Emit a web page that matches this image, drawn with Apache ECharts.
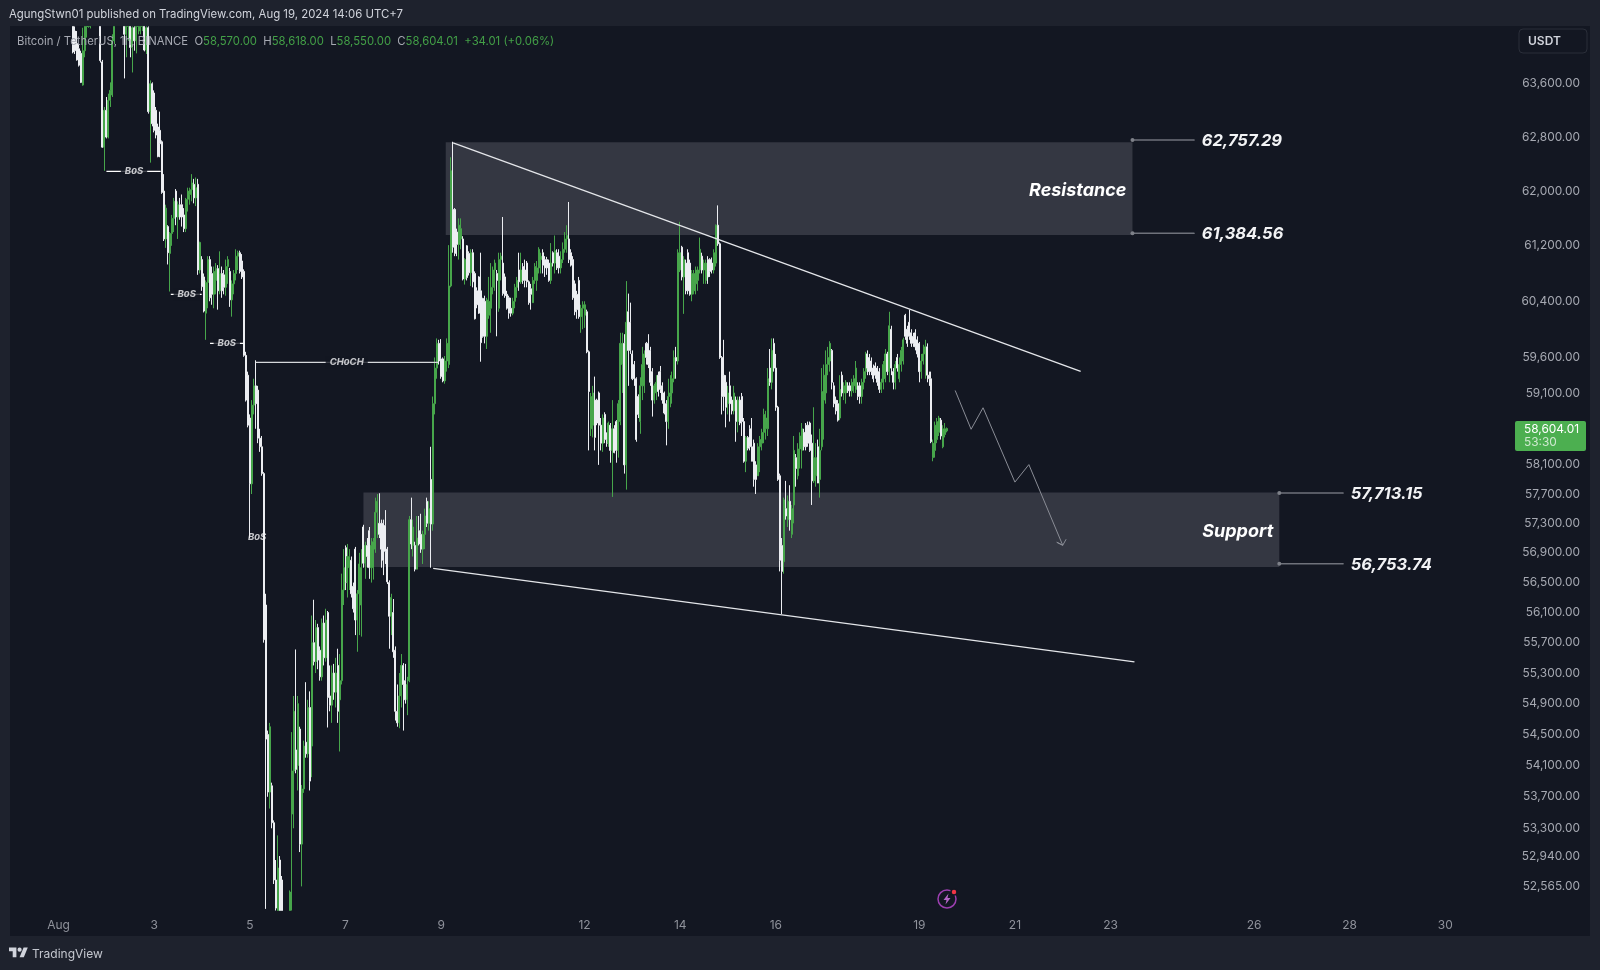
<!DOCTYPE html>
<html>
<head>
<meta charset="utf-8">
<title>BTCUSDT 1h</title>
<script src="https://cdn.jsdelivr.net/npm/echarts@6/dist/echarts.min.js"></script>
<style>
  html, body { margin: 0; padding: 0; background: #1e222d; }
  #chart { width: 1600px; height: 970px; }
</style>
</head>
<body>
<div id="chart"></div>
<script>
// every candle is [open, close, low, high], one list per day, one candle per hour
const firstHourAug1 = 7;
const aug1 = [[64470,64080,64060,64470],[64400,64100,64050,64470],[64210,63960,63950,64400],[64130,63880,63860,64200],[64060,63620,63610,64100],[63580,64100,63570,64450],[64100,64470,64000,64470],[64470,64470,64300,64470],[64470,64470,64450,64470],[64470,64470,64440,64470],[64900,64700,64500,65100],[64700,64900,64600,65100],[64900,65000,64700,65200],[65000,64800,64600,65200],[64470,63950,63920,64470],[63930,62650,62640,63960],[62650,63200,62300,63250]];
const aug2 = [[63200,62800,62780,63400],[62800,63350,62780,63450],[63350,63500,63250,63620],[63430,64250,63400,64350],[64250,64470,64200,64470],[64700,64900,64600,65100],[64900,65100,64700,65300],[65100,65000,64800,65300],[65000,64900,64700,65200],[64470,64350,63680,64470],[64350,64470,64000,64470],[64470,64470,64250,64470],[64470,64150,64000,64470],[64150,64450,63770,64470],[64450,64250,64100,64470],[64250,64470,64060,64470],[64470,64470,64350,64470],[64400,64470,64350,64470],[64470,64470,64400,64470],[64470,64110,64090,64470],[64110,64450,64050,64470],[64450,63180,63150,64470],[63180,63600,62420,63650],[63600,63000,62960,63620]];
const aug3 = [[63460,62900,62870,63500],[63200,62830,62780,63250],[62950,62510,62500,63000],[62900,62700,62500,63180],[62730,61980,61960,62750],[62000,61300,61270,62250],[61300,61750,61170,61800],[61480,61100,60930,61500],[61090,61380,60540,61400],[61380,61600,61200,61650],[61600,61850,61400,61900],[62000,61620,61500,62030],[61620,61800,61300,61850],[61800,61620,61580,61900],[61800,61620,61480,61950],[61650,61450,61400,61750],[61450,61880,61400,61900],[61880,62000,61700,62050],[61950,62020,61800,62050],[62020,62120,61850,62250],[62100,61900,61820,62180],[61900,62050,61780,62200],[62100,60850,60780,62180],[60850,61250,60800,61260]];
const aug4 = [[61000,60610,60550,61050],[60750,60260,60240,60800],[60230,60670,59850,60700],[60670,61000,60300,61050],[61000,60450,60400,61050],[60800,60500,60350,60900],[60500,60830,60300,60900],[60700,60870,60500,60950],[60870,60550,60280,60920],[60550,60800,60500,61120],[60800,60550,60450,60900],[60780,60600,60500,60850],[60600,60900,60480,61000],[60900,61000,60650,61050],[60830,60420,60320,60880],[60420,60650,60180,60700],[60650,60800,60500,60850],[60800,61050,60700,61150],[61050,61100,60850,61130],[61100,60830,60800,61130],[60980,60750,60720,61080],[60830,59630,59610,60860],[59630,59000,58980,59680],[59350,58650,58620,59400]];
const aug5 = [[58750,57840,57100,58800],[57840,58930,57700,59000],[58930,59200,58800,59300],[59200,58950,58600,59560],[59140,58470,58400,59200],[58470,58350,58280,58600],[58350,57980,57950,58500],[57980,55740,55700,58000],[56200,54440,52290,56350],[54500,53760,53700,54550],[53760,54600,53550,54650],[53840,53370,53300,53880],[53370,52650,52600,53400],[52650,52300,52270,52900],[52270,52800,52270,53210],[52900,52270,52270,52950],[52650,52270,52270,52700],[52000,52150,51900,52200],[52150,52050,51900,52250],[52050,52200,51950,52250],[52270,52500,52270,52520],[53480,54030,52270,54530],[54030,54800,53300,55000],[54300,54050,54000,55610]];
const aug6 = [[54100,54900,53780,55000],[54570,53100,53000,54600],[53100,53800,52570,53850],[53800,54350,53750,54420],[54400,54250,54200,55180],[54250,54850,54200,54950],[54850,53900,53780,55060],[54350,55700,53950,56060],[55700,55450,55400,56270],[55450,55900,55300,56000],[55900,55470,55350,55950],[55600,55250,55200,55650],[55250,55960,55200,56020],[55960,55500,55400,56060],[55500,56000,55450,56150],[56100,54980,54590,56120],[55000,54880,54800,55400],[54880,55300,54650,55400],[55300,55050,54950,55420],[55050,55300,54850,55500],[55400,54800,54650,55620],[54950,55200,54280,55550],[55200,56400,55150,56620],[56400,56700,56200,56950]];
const aug7 = [[56970,56500,56400,57000],[56500,56850,56300,57020],[56700,56850,56400,56950],[56800,56350,56300,56850],[56450,56150,56100,56500],[56950,56000,55800,56980],[56000,56350,55580,56400],[56350,56750,55800,56900],[56200,56700,55780,56950],[57250,56760,56700,57280],[56760,57000,56550,57050],[57000,56850,56700,57100],[57200,56700,56550,57250],[56700,57000,56500,57100],[56700,57050,56540,57100],[56950,57450,56900,57650],[57450,57600,57100,57700],[57300,57150,57100,57710],[57300,56950,56700,57350],[57300,56800,56600,57350],[57270,56920,56750,57480],[56950,56510,56480,56980],[56500,56050,55620,56530],[56050,56300,55800,56350]];
const aug8 = [[56100,55580,55500,56280],[55600,54800,54680,55650],[54800,54650,54600,55150],[54650,55000,54580,55300],[55000,55400,54850,55550],[55400,55150,54550,55430],[55200,54950,54900,55420],[54950,55150,54750,55250],[55200,57350,55180,57400],[57350,57020,56950,57650],[57000,57250,56850,57350],[57000,56680,56650,57050],[56680,57100,56690,57400],[57200,57020,57000,57400],[57150,56950,56900,57430],[56950,57150,56750,57200],[57150,57400,56950,57500],[57600,57300,57250,57650],[57300,57500,57200,57600],[57900,57290,56700,58350],[57290,58950,57200,59050],[58950,59450,58800,59600],[59450,59800,59300,59870],[59800,59550,59500,59850]];
const aug9 = [[59580,59330,59300,59860],[59580,59270,59250,59600],[59270,59550,59230,59620],[59550,59800,59400,59870],[59500,60620,59450,61210],[60620,62300,60600,62500],[61730,61180,61100,62730],[61730,61090,61050,61750],[61400,61220,61050,61450],[61220,61500,61000,61600],[61300,61450,61150,61600],[61300,60720,60700,61340],[60720,61000,60640,61020],[61200,60740,60700,61210],[61090,60810,60770,61120],[60810,61100,60620,61150],[61100,60680,60600,61150],[60800,60150,60140,60830],[60550,60350,60300,60600],[60750,60230,60220,60760],[60550,59810,59540,61100],[60440,59900,59880,60450],[60400,59900,59800,60480],[59900,60420,59720,60450]];
const aug10 = [[60200,60400,60150,60750],[60300,60600,59950,60950],[60600,60850,60500,60900],[60850,60950,60550,61000],[60800,60700,59900,60850],[60300,61000,60250,61100],[61000,61050,60700,61100],[60950,60510,60480,61620],[60750,60480,60450,60800],[60500,60300,60280,60550],[60450,60230,60150,60480],[60300,60230,60180,60450],[60230,60400,60200,60450],[60400,60600,60300,60650],[60600,60700,60450,60750],[60850,60680,60550,61100],[60680,60850,60650,61100],[60900,60700,60650,60950],[60850,60700,60600,61000],[60950,60680,60600,60980],[60680,60380,60350,60700],[60580,60500,60280,60650],[60380,60700,60380,60750],[60700,60900,60650,60950]];
const aug11 = [[60700,60880,60550,60980],[60880,61150,60800,61180],[61000,61050,60800,61100],[61100,60920,60800,61150],[61000,60880,60750,61050],[61000,60880,60780,61040],[60950,60700,60680,61000],[60700,60950,60650,61240],[61100,60950,60900,61120],[60950,61130,60800,61350],[61100,60880,60850,61150],[61050,60880,60800,61150],[60880,61000,60800,61120],[61000,61150,60950,61250],[61150,61300,61100,61400],[61300,61350,61100,61500],[61300,61000,60950,61840],[61100,60920,60900,61150],[61000,60450,60420,61050],[60650,60250,60200,60700],[60500,60280,60150,60550],[60700,60180,60150,60750],[60180,60300,59950,60350],[60300,60350,60000,60400]];
const aug12 = [[60200,60350,60020,60400],[60250,59680,59660,60280],[59680,59120,58300,59700],[58600,59050,58500,59100],[58650,59100,58480,59200],[59000,58480,58300,59330],[59000,58680,58650,59020],[59100,58650,58100,59120],[58650,58400,58300,58750],[58400,58750,58280,58800],[58800,58450,58400,58830],[58450,58400,58350,58550],[58400,58680,58350,58700],[58650,58300,58130,58680],[58300,58600,57660,59000],[58600,58270,58260,58650],[58700,58300,58130,58720],[58300,58950,58200,59000],[58700,59800,58650,59950],[59500,59800,59100,59950],[59800,58100,57980,59930],[58100,60100,57760,60690],[60250,59700,59200,60510],[60100,59700,59650,60380]];
const aug13 = [[59650,59300,59280,59700],[59500,59300,59200,59550],[59300,58450,58420,59320],[59050,58800,58750,59080],[58700,59200,58530,59320],[59200,59500,59000,59750],[59200,59650,59100,59700],[59800,59600,59500,59820],[59800,59500,59450,59930],[59700,59250,59200,59750],[59400,59000,58770,59450],[59000,59200,58950,59230],[59100,59250,59000,59350],[59350,59120,59050,59400],[59400,59150,59100,59480],[59200,59000,58950,59250],[59100,58820,58800,59120],[58950,58700,58370,59000],[58700,59050,58600,59300],[59050,59100,58900,59350],[59100,59300,58950,59400],[59300,59600,59250,59700],[59600,59550,59300,59750],[59550,61100,59500,61150]];
const aug14 = [[60850,61100,60820,61550],[61180,60750,60700,61200],[60750,61000,60220,61050],[60950,60550,60500,61000],[61100,60550,60500,61150],[60950,60500,60480,61000],[60500,60800,60400,60850],[60550,60800,60500,60850],[60650,60850,60500,60900],[60700,60850,60550,60900],[60850,61150,60800,61320],[61050,60850,60800,61100],[60850,60950,60650,61000],[60700,60950,60650,61000],[61000,60750,60650,61050],[61000,60830,60750,61020],[60950,60850,60800,61030],[60850,61100,60800,61150],[60950,61500,60900,61510],[61500,61230,61200,61790],[61230,59600,59580,61250],[59600,59050,58800,59620],[59350,59050,58850,59850],[59250,58900,58620,59350]];
const aug15 = [[58950,59100,58800,59200],[59200,58950,58700,59400],[59000,58850,58800,59050],[58850,59100,58800,59200],[59000,58700,58420,59050],[58700,59000,58550,59050],[59000,58680,58650,59050],[59050,58700,58500,59100],[58700,58150,58130,58750],[58150,58480,58000,58500],[58480,58330,58300,58500],[58600,58350,58300,58650],[58350,58150,58150,58750],[58400,57900,57800,58450],[58100,57900,57700,58150],[57950,58350,57950,58400],[58350,58450,58000,58500],[58400,58550,58300,58600],[58550,58800,58400,58880],[58600,58750,58450,58850],[58600,59300,58500,59450],[59450,59250,59200,59720],[59250,59700,59150,59870],[59800,59450,59400,59870]];
const aug16 = [[59450,58900,58850,59650],[58900,57900,57880,58920],[57950,56800,56650,57980],[57000,56650,56080,57100],[56780,57620,56620,57650],[57500,57400,57350,57880],[57350,57600,57250,57680],[57600,57350,57200,57820],[57150,57500,57100,57550],[57550,58300,57300,58500],[58200,58050,57800,58250],[57950,58320,57900,58400],[58320,58500,58050,58550],[58300,58600,58050,58680],[58550,58350,58300,58600],[58650,58350,58300,58680],[58650,58400,58350,58700],[58680,58300,58280,58700],[58400,57880,57550,58520],[57880,58200,57850,58900],[57950,58200,57800,58400],[58350,57850,57850,58450],[57900,58300,57650,58600],[58350,59120,58300,59450]];
const aug17 = [[59000,59350,58450,59500],[59100,59500,58950,59700],[59500,59600,59350,59750],[59550,59800,59400,59830],[59700,59250,59150,59720],[59200,58950,58900,59250],[59000,58850,58800,59050],[58950,58720,58700,59000],[58750,59150,58720,59350],[59350,59100,59050,59400],[59100,59200,59000,59250],[59100,59250,58950,59280],[59200,59130,59100,59250],[59200,59130,59050,59250],[59130,59250,59050,59300],[59200,59300,59100,59350],[59150,59450,59100,59550],[59200,59050,59000,59250],[59200,59050,58950,59250],[59050,59250,58950,59300],[59250,59400,59150,59450],[59400,59650,59300,59680],[59650,59450,59350,59700],[59600,59400,59350,59650]];
const aug18 = [[59550,59400,59350,59600],[59450,59300,59250,59500],[59480,59350,59300,59530],[59450,59250,59200,59480],[59400,59150,59100,59450],[59150,59250,59100,59300],[59250,59500,59150,59550],[59300,59650,59250,59720],[59650,59400,59350,59680],[59400,60050,59250,60250],[60000,59450,59350,60050],[59400,59250,59150,59450],[59250,59500,59150,59550],[59600,59450,59400,59650],[59300,59500,59250,59600],[59500,59700,59400,59750],[59550,59850,59500,59880],[60200,59900,59850,60220],[60000,59800,59750,60050],[60100,59900,59850,60280],[59950,59800,59750,60000],[59900,59800,59750,59950],[59950,59750,59700,60000],[59850,59650,59600,59900]];
const aug19 = [[59800,59400,59250,59820],[59400,59550,59300,59650],[59550,59650,59500,59780],[59650,59750,59300,59850],[59750,59350,59250,59800],[59350,59300,59200,59400],[59300,58420,58400,59400],[58200,58400,58150,58450],[58300,58650,58200,58700],[58450,58700,58400,58750],[58550,58750,58500,58780],[58720,58500,58450,58750],[58350,58600,58330,58650],[58520,58600,58480,58680],[58570,58604.01,58550,58618]];
const days = [aug1, aug2, aug3, aug4, aug5, aug6, aug7, aug8, aug9, aug10, aug11, aug12, aug13, aug14, aug15, aug16, aug17, aug18, aug19];

const priceTicks = [63600, 62800, 62000, 61200, 60400, 59600, 59100, 58100, 57700, 57300, 56900, 56500, 56100, 55700, 55300, 54900, 54500, 54100, 53700, 53300, 52940, 52565];
const dayTicks = [1, 3, 5, 7, 9, 12, 14, 16, 19, 21, 23, 26, 28, 30];
const dayLabels = ['Aug', '3', '5', '7', '9', '12', '14', '16', '19', '21', '23', '26', '28', '30'];

// zones: [day, hour] of both ends, then top and bottom price
const resistanceEnds = [[9, 2.3], [23, 11]];
const resistancePrices = [62721, 61357];
const supportEnds = [[7, 9], [26, 12.7]];
const supportPrices = [57720, 56710];

const levelPrices = [62757.29, 61384.56, 57713.15, 56753.74];
const levelLabels = ['62,757.29', '61,384.56', '57,713.15', '56,753.74'];
const levelStarts = [[23, 11], [23, 11], [26, 12.7], [26, 12.7]];
const levelEnds = [[24, 18], [24, 18], [27, 20.8], [27, 20.8]];

const upperTrendDays = [[9, 6], [22, 9]];
const upperTrendPrices = [62715, 59405];
const lowerTrendDays = [[8, 20], [23, 12]];
const lowerTrendPrices = [56690, 55447];

const forecastDays = [[19, 18], [20, 2], [20, 8], [21, 0], [21, 7], [22, 0], [21, 21], [22, 0], [22, 1.7]];
const forecastPrices = [59135, 58593, 58893, 57863, 58104, 57002, 57043, 57002, 57084];

const structureNames = ['BoS', 'BoS', 'BoS', 'CHoCH'];
const structurePrices = [62290, 60500, 59800, 59530];
const structureFrom = [[2, 0], [3, 8.3], [4, 4], [5, 2.9]];
const structureTo = [[3, 3.25], [3, 23.8], [4, 20.8], [8, 22.4]];
const structureMid = [[2, 13.85], [3, 16.3], [4, 12.4], [7, 0.6]];
const looseBosDay = [5, 3.6];
const looseBosPrice = 57110;

const paneColor = '#131722';
const outerColor = '#1e222d';
const upColor = '#47a64b';
const downColor = '#eceef2';
const uiFont = 'Inter, "Noto Sans", sans-serif';

function at(day, hour) {
  return Date.UTC(2024, 7, day) + hour * 3600000;
}
function atPair(p) {
  return at(p[0], p[1]);
}

const candles = [];
days.forEach(function (list, d) {
  list.forEach(function (c, i) {
    const hour = d === 0 ? i + firstHourAug1 : i;
    candles.push([at(d + 1, hour), c[0], c[1], c[2], c[3]]);
  });
});

function plainLine(name, xs, ys, color, width) {
  return {
    name: name,
    type: 'line',
    z: 4,
    symbol: 'none',
    silent: true,
    animation: false,
    lineStyle: { color: color, width: width },
    data: xs.map(function (p, i) { return [atPair(p), ys[i]]; })
  };
}

function zoneArea(ends, prices, text) {
  return [{
    name: text,
    coord: [atPair(ends[0]), prices[0]],
    label: {
      show: true,
      position: 'insideRight',
      distance: 5,
      offset: [-1, 2],
      formatter: text,
      color: '#ffffff',
      fontFamily: uiFont,
      fontSize: 18,
      fontWeight: 700,
      fontStyle: 'italic'
    }
  }, {
    coord: [atPair(ends[1]), prices[1]]
  }];
}

const series = [];

series.push({
  name: 'zones',
  type: 'line',
  z: 1,
  silent: true,
  data: [],
  markArea: {
    silent: true,
    animation: false,
    itemStyle: { color: '#343742' },
    data: [zoneArea(resistanceEnds, resistancePrices, 'Resistance'), zoneArea(supportEnds, supportPrices, 'Support')]
  }
});

series.push({
  name: 'BTCUSDT',
  type: 'candlestick',
  z: 3,
  barWidth: 1.5,
  animation: false,
  progressive: 0,
  large: false,
  clip: true,
  encode: { x: 0, y: [1, 2, 3, 4] },
  itemStyle: {
    color: upColor,
    color0: downColor,
    borderColor: upColor,
    borderColor0: downColor,
    borderWidth: 1
  },
  data: candles
});

series.push(plainLine('upper trend', upperTrendDays, upperTrendPrices, '#e4e6ea', 1.3));
series.push(plainLine('lower trend', lowerTrendDays, lowerTrendPrices, '#e4e6ea', 1.3));
series.push(plainLine('forecast', forecastDays, forecastPrices, '#8a8d96', 1));

structureNames.forEach(function (name, i) {
  series.push(plainLine(name + ' ' + i, [structureFrom[i], structureTo[i]], [structurePrices[i], structurePrices[i]], i === 3 ? '#d6d8dc' : '#ffffff', 1.2));
});

const structureLabelStyle = {
  show: true,
  position: 'inside',
  color: '#f2f3f5',
  fontFamily: uiFont,
  fontSize: 9.5,
  fontWeight: 700,
  fontStyle: 'italic'
};
series.push({
  name: 'structure labels',
  type: 'scatter',
  z: 5,
  symbolSize: 1,
  silent: true,
  animation: false,
  itemStyle: { color: 'rgba(0,0,0,0)' },
  data: structureNames.map(function (name, i) {
    return {
      value: [atPair(structureMid[i]), structurePrices[i]],
      label: Object.assign({}, structureLabelStyle, {
        formatter: name,
        backgroundColor: paneColor,
        padding: [1, 4]
      })
    };
  }).concat([{
    value: [atPair(looseBosDay), looseBosPrice],
    label: Object.assign({}, structureLabelStyle, { formatter: 'BoS' })
  }])
});

levelPrices.forEach(function (price, i) {
  series.push({
    name: 'level ' + levelLabels[i],
    type: 'line',
    z: 4,
    silent: true,
    animation: false,
    lineStyle: { color: '#6f727b', width: 1.5 },
    itemStyle: { color: '#7d8088' },
    data: [{
      value: [atPair(levelStarts[i]), price],
      symbol: 'circle',
      symbolSize: 4
    }, {
      value: [atPair(levelEnds[i]), price],
      symbol: 'circle',
      symbolSize: 1,
      label: {
        show: true,
        position: 'right',
        distance: 7,
        offset: [0, 1],
        formatter: levelLabels[i],
        color: '#f2f3f5',
        fontFamily: uiFont,
        fontSize: 16.5,
        fontWeight: 700,
        fontStyle: 'italic'
      }
    }]
  });
});

const legendRich = {
  g: { fill: '#a6a9b2', font: '11.3px ' + uiFont },
  v: { fill: '#43a047', font: '11.3px ' + uiFont }
};

const option = {
  animation: false,
  backgroundColor: outerColor,
  grid: { left: 10, right: 85, top: 26, bottom: 59 },
  xAxis: {
    type: 'value',
    min: at(1, -24.4),
    max: at(1, 731),
    scale: true,
    axisLine: { show: false },
    axisTick: { show: false },
    splitLine: { show: false },
    axisLabel: {
      customValues: dayTicks.map(function (d) { return at(d, 0); }),
      margin: 8,
      color: '#8f929b',
      fontFamily: uiFont,
      fontSize: 12,
      formatter: function (value) {
        return dayLabels[dayTicks.indexOf(new Date(value).getUTCDate())];
      }
    }
  },
  yAxis: {
    type: 'log',
    logBase: 10,
    position: 'right',
    min: 52264,
    max: 64477,
    axisLine: { show: false },
    axisTick: { show: false },
    splitLine: { show: false },
    minorTick: { show: false },
    axisLabel: {
      customValues: priceTicks,
      margin: 65,
      align: 'right',
      padding: [2, 0, 0, 0],
      color: '#a6a9b2',
      fontFamily: uiFont,
      fontSize: 11.9,
      formatter: function (value) {
        return Number(value).toLocaleString('en-US', { minimumFractionDigits: 2, maximumFractionDigits: 2 });
      }
    }
  },
  series: series,
  graphic: [
    { type: 'rect', z: -5, silent: true, shape: { x: 10, y: 26, width: 1580, height: 910 }, style: { fill: paneColor } },
    { type: 'text', z: 50, silent: true, x: 9, y: 15, style: { text: 'AgungStwn01 published on TradingView.com, Aug 19, 2024 14:06 UTC+7', fill: '#d1d4dc', font: '11.4px ' + uiFont, verticalAlign: 'middle' } },
    {
      type: 'text', z: 50, silent: true, x: 17, y: 41.5,
      style: {
        text: '{g|Bitcoin / TetherUS, 1h, BINANCE  O}{v|58,570.00}{g|  H}{v|58,618.00}{g|  L}{v|58,550.00}{g|  C}{v|58,604.01}{v|  +34.01 (+0.06%)}',
        rich: legendRich,
        verticalAlign: 'middle'
      }
    },
    { type: 'rect', z: 50, silent: true, shape: { x: 1519, y: 29, width: 68, height: 24, r: 4 }, style: { fill: paneColor, stroke: '#2a2e39', lineWidth: 1 } },
    { type: 'text', z: 51, silent: true, x: 1528, y: 41, style: { text: 'USDT', fill: '#d1d4dc', font: '600 12px ' + uiFont, verticalAlign: 'middle' } },
    { type: 'rect', z: 50, silent: true, shape: { x: 1515, y: 421, width: 71, height: 30, r: 2 }, style: { fill: '#4caf50' } },
    { type: 'text', z: 51, silent: true, x: 1524, y: 429, style: { text: '58,604.01', fill: '#ffffff', font: '11.9px ' + uiFont, verticalAlign: 'middle' } },
    { type: 'text', z: 51, silent: true, x: 1524, y: 442, style: { text: '53:30', fill: '#cfe9d0', font: '11.9px ' + uiFont, verticalAlign: 'middle' } },
    { type: 'polygon', z: 50, silent: true, shape: { points: [[9, 947.6], [16.4, 947.6], [16.4, 957.2], [12.7, 957.2], [12.7, 951.3], [9, 951.3]] }, style: { fill: '#d1d4dc' } },
    { type: 'polygon', z: 50, silent: true, shape: { points: [[23.6, 947.6], [27.8, 947.6], [23.8, 957.2], [19.6, 957.2]] }, style: { fill: '#d1d4dc' } },
    { type: 'circle', z: 50, silent: true, shape: { cx: 19.6, cy: 949.7, r: 2.1 }, style: { fill: '#d1d4dc' } },
    { type: 'text', z: 50, silent: true, x: 32, y: 954, style: { text: 'TradingView', fill: '#c4c7cf', font: '12px ' + uiFont, verticalAlign: 'middle' } },
    { type: 'circle', z: 50, silent: true, shape: { cx: 947, cy: 899, r: 9 }, style: { fill: 'none', stroke: '#9c3fb0', lineWidth: 1.5 } },
    { type: 'polygon', z: 50, silent: true, shape: { points: [[948.5, 893.5], [943.5, 900], [946.5, 900], [945.5, 904.5], [950.5, 898], [947.5, 898]] }, style: { fill: '#b366c6' } },
    { type: 'circle', z: 51, silent: true, shape: { cx: 954, cy: 892, r: 3 }, style: { fill: '#f23645', stroke: paneColor, lineWidth: 1.5 } }
  ]
};

const chart = echarts.init(document.getElementById('chart'), null, { width: 1600, height: 970 });
chart.setOption(option);
</script>
</body>
</html>
